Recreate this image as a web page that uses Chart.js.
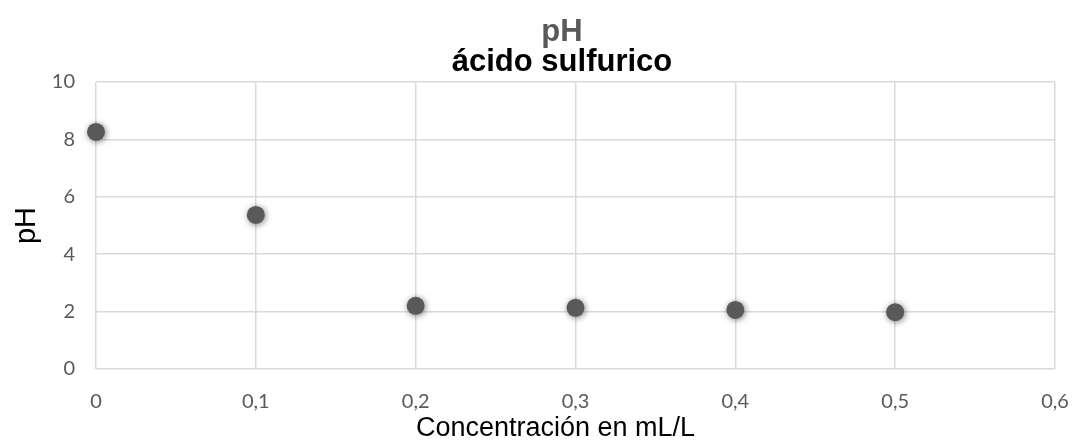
<!DOCTYPE html>
<html>
<head>
<meta charset="utf-8">
<script src="https://cdn.jsdelivr.net/npm/chart.js@4"></script>
<style>
  html, body { margin: 0; padding: 0; background: #fff; }
  #wrap { width: 1076px; height: 443px; }
</style>
</head>
<body>
<div id="wrap"><canvas id="grafico"></canvas></div>
<script>
const concentraciones = [0, 0.1, 0.2, 0.3, 0.4, 0.5];
const valoresPH = [8.26, 5.37, 2.2, 2.13, 2.06, 1.98];
const ticksX = [0, 0.1, 0.2, 0.3, 0.4, 0.5, 0.6];
const ticksY = [0, 2, 4, 6, 8, 10];

// sombra suave en los puntos
const sombra = {
  id: 'sombra',
  beforeDatasetsDraw(chart) {
    const ctx = chart.ctx;
    ctx.save();
    ctx.shadowColor = 'rgba(0,0,0,0.5)';
    ctx.shadowBlur = 6;
    ctx.shadowOffsetX = 1;
    ctx.shadowOffsetY = 1;
  },
  afterDatasetsDraw(chart) {
    chart.ctx.restore();
  }
};

// en el original los títulos no están centrados exactamente
const moverTitulos = {
  id: 'moverTitulos',
  afterLayout(chart) {
    chart.boxes.forEach(b => {
      if (b.position === 'top' && b.options && b.options.text !== undefined) {
        b.left += 18;
        b.right += 18;
      }
    });
    const ejeX = chart.scales.x;
    if (!ejeX._tituloMovido) {
      const original = ejeX.drawTitle;
      ejeX.drawTitle = function () {
        this.ctx.save();
        this.ctx.translate(-20, 0);
        original.call(this);
        this.ctx.restore();
      };
      ejeX._tituloMovido = true;
    }
  }
};

const ctx = document.getElementById('grafico').getContext('2d');
new Chart(ctx, {
  type: 'scatter',
  data: {
    datasets: [{
      label: 'pH',
      data: concentraciones.map((c, i) => ({ x: c, y: valoresPH[i] })),
      backgroundColor: '#595959',
      borderColor: '#595959',
      pointRadius: 9,
      pointHoverRadius: 9,
      borderWidth: 0,
      clip: false
    }]
  },
  options: {
    responsive: true,
    maintainAspectRatio: false,
    animation: false,
    layout: { padding: { left: 12, right: 0, top: 0, bottom: 0 } },
    plugins: {
      legend: { display: false },
      tooltip: { enabled: false },
      title: {
        display: true,
        text: 'pH',
        color: '#595959',
        font: { family: 'Liberation Sans', size: 31, weight: 'bold', lineHeight: 1.0 },
        padding: { top: 17, bottom: 0 }
      },
      subtitle: {
        display: true,
        text: 'ácido sulfurico',
        color: '#000000',
        font: { family: 'Liberation Sans', size: 31, weight: 'bold', lineHeight: 1.0 },
        padding: { top: -1, bottom: 4 }
      }
    },
    scales: {
      x: {
        type: 'linear',
        min: 0,
        max: 0.6,
        afterBuildTicks: axis => { axis.ticks = ticksX.map(v => ({ value: v })); },
        afterFit: axis => { axis.height = 74; axis.paddingRight = 21; },
        grid: { color: '#d9d9d9', lineWidth: 1.5, drawTicks: false },
        border: { display: false },
        ticks: {
          color: '#595959',
          font: { family: 'Lato', size: 20 },
          padding: 21,
          maxRotation: 0,
          callback: v => String(Math.round(v * 10) / 10).replace('.', ',')
        },
        title: {
          display: true,
          text: 'Concentración en mL/L',
          color: '#000000',
          font: { family: 'Liberation Sans', size: 27, lineHeight: 1.1 },
          padding: { top: 0, bottom: 0 }
        }
      },
      y: {
        min: 0,
        max: 10,
        afterBuildTicks: axis => { axis.ticks = ticksY.map(v => ({ value: v })); },
        afterFit: axis => { axis.width = 84; },
        grid: { color: '#d9d9d9', lineWidth: 1.5, drawTicks: false },
        border: { display: false },
        ticks: {
          color: '#595959',
          font: { family: 'Lato', size: 20 },
          padding: 21
        },
        title: {
          display: true,
          text: 'pH',
          color: '#000000',
          font: { family: 'Liberation Sans', size: 29, lineHeight: 1.0 },
          padding: { top: 0, bottom: 0 }
        }
      }
    }
  },
  plugins: [sombra, moverTitulos]
});
</script>
</body>
</html>
